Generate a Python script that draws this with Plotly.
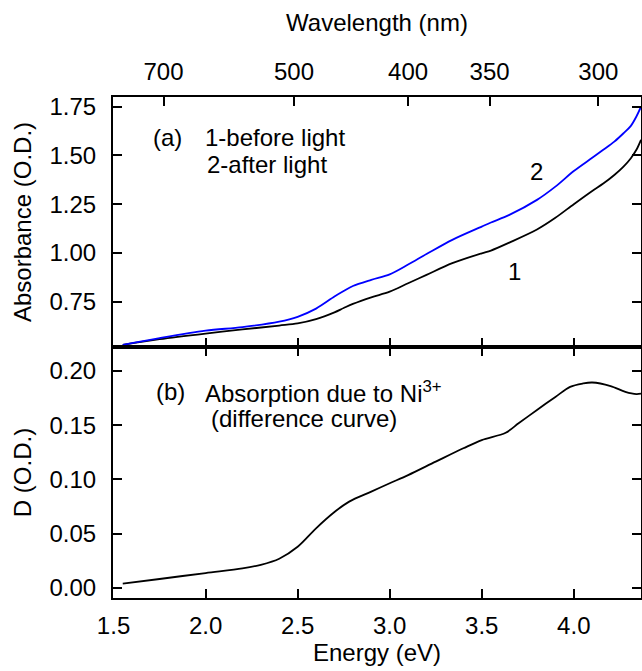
import plotly.graph_objects as go

# Panel (a): absorbance before / after illumination
energy = [1.55, 1.75, 2.0, 2.2, 2.4, 2.5, 2.6, 2.7, 2.75, 2.8, 2.9, 3.0, 3.1, 3.2,
          3.34, 3.5, 3.55, 3.65, 3.8, 3.9, 4.0, 4.1, 4.16, 4.22, 4.27, 4.31, 4.34, 4.365]
abs_before = [0.528, 0.557, 0.586, 0.607, 0.627, 0.638, 0.660, 0.695, 0.717, 0.738, 0.772,
              0.801, 0.844, 0.887, 0.947, 0.998, 1.012, 1.053, 1.120, 1.180, 1.250, 1.318,
              1.356, 1.400, 1.443, 1.486, 1.529, 1.580]
abs_after = [0.528, 0.563, 0.601, 0.619, 0.647, 0.672, 0.714, 0.776, 0.804, 0.830, 0.862,
             0.890, 0.940, 0.994, 1.067, 1.135, 1.156, 1.195, 1.272, 1.340, 1.420, 1.488,
             1.529, 1.571, 1.614, 1.652, 1.700, 1.750]

# Panel (b): difference curve
diff_energy = [1.55, 1.75, 2.0, 2.2, 2.3, 2.4, 2.5, 2.6, 2.7, 2.78, 2.9, 3.0, 3.1, 3.25,
               3.4, 3.5, 3.63, 3.7, 3.8, 3.9, 3.98, 4.05, 4.1, 4.2, 4.28, 4.34, 4.365]
diff_od = [0.004, 0.0083, 0.0138, 0.018, 0.0214, 0.027, 0.038, 0.055, 0.070, 0.0796, 0.0888,
           0.0965, 0.104, 0.1164, 0.1287, 0.1363, 0.143, 0.1517, 0.164, 0.176, 0.1853, 0.1884,
           0.1893, 0.186, 0.1807, 0.1786, 0.179]

wl_ticks = [700, 500, 400, 350, 300]
wl_pos = [1240.0 / w for w in wl_ticks]

X_RANGE = [1.497, 4.365]
FONT = "Liberation Sans, Arial, sans-serif"
FS = 24

axis_style = dict(showline=True, linewidth=2, linecolor='black', ticks='inside',
                  tickwidth=2, ticklen=9, tickcolor='black', showgrid=False,
                  zeroline=False, automargin=False, tickfont=dict(size=FS, color='black'))
curve = dict(width=1.8, shape='spline', smoothing=0.9)

fig = go.Figure()
fig.add_trace(go.Scatter(x=energy, y=abs_before, mode='lines', xaxis='x', yaxis='y',
                         line=dict(curve, color='black')))
fig.add_trace(go.Scatter(x=energy, y=abs_after, mode='lines', xaxis='x', yaxis='y',
                         line=dict(curve, color='#0000ff')))
fig.add_trace(go.Scatter(x=diff_energy, y=diff_od, mode='lines', xaxis='x2', yaxis='y2',
                         line=dict(curve, color='black')))
# holder trace for the wavelength axis on top
fig.add_trace(go.Scatter(x=energy, y=abs_after, mode='lines', xaxis='x3', yaxis='y',
                         opacity=0, hoverinfo='skip'))

fig.update_layout(
    width=642, height=671,
    margin=dict(l=113, r=1, t=97, b=73),
    paper_bgcolor='white', plot_bgcolor='white',
    showlegend=False,
    font=dict(family=FONT, color='black', size=FS),
    xaxis=dict(axis_style, domain=[0, 1], anchor='y', range=X_RANGE,
               tick0=1.5, dtick=0.5, showticklabels=False),
    xaxis3=dict(axis_style, overlaying='x', side='top', anchor='y', range=X_RANGE,
                tickvals=wl_pos, ticktext=[str(w) for w in wl_ticks],
                ticklabelstandoff=5,
                title=dict(text='Wavelength (nm)', standoff=20, font=dict(size=FS))),
    xaxis2=dict(axis_style, domain=[0, 1], anchor='y2', range=X_RANGE,
                tick0=1.5, dtick=0.5, tickformat='.1f', mirror='ticks',
                ticklabelstandoff=5,
                title=dict(text='Energy (eV)', standoff=5, font=dict(size=FS))),
    yaxis=dict(axis_style, domain=[0.501, 1], anchor='x', range=[0.517, 1.80],
               tickvals=[0.75, 1.0, 1.25, 1.5, 1.75], tickformat='.2f', mirror='ticks',
               ticklabelstandoff=10,
               title=dict(text='Absorbance (O.D.)', standoff=11, font=dict(size=FS))),
    yaxis2=dict(axis_style, domain=[0, 0.501], anchor='x2', range=[-0.0092, 0.222],
                tick0=0, dtick=0.05, tickformat='.2f', mirror='ticks',
                ticklabelstandoff=10,
                title=dict(text='D (O.D.)', standoff=11, font=dict(size=FS))),
)

ann = dict(showarrow=False, xanchor='left', yanchor='middle', font=dict(size=FS, color='black'))
fig.add_annotation(ann, x=1.705, y=1.590, xref='x', yref='y', text='(a)')
fig.add_annotation(ann, x=1.985, y=1.590, xref='x', yref='y', text='1-before light')
fig.add_annotation(ann, x=1.998, y=1.452, xref='x', yref='y', text='2-after light')
fig.add_annotation(ann, x=3.796, y=1.417, xref='x', yref='y', text='2', xanchor='center')
fig.add_annotation(ann, x=3.678, y=0.904, xref='x', yref='y', text='1', xanchor='center')
fig.add_annotation(ann, x=1.72, y=0.1807, xref='x2', yref='y2', text='(b)')
fig.add_annotation(ann, x=1.985, y=0.1807, xref='x2', yref='y2',
                   text='Absorption due to Ni<sup>3+</sup>')
fig.add_annotation(ann, x=2.017, y=0.1565, xref='x2', yref='y2', text='(difference curve)')

# page body has an 8px default margin; drop it so the figure fills the window
fig.write_html("out.html", config={'displayModeBar': False},
               post_script="document.body.style.margin='0';")
